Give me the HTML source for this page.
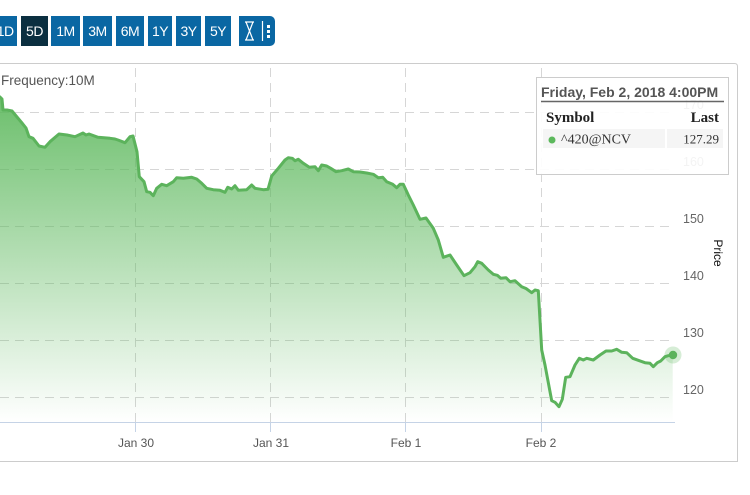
<!DOCTYPE html>
<html>
<head>
<meta charset="utf-8">
<style>
  html,body{margin:0;padding:0;background:#fff;}
  body{width:750px;height:495px;overflow:hidden;position:relative;font-family:"Liberation Sans",Arial,sans-serif;}
  .btn{position:absolute;top:16px;height:30px;background:#0a67a3;color:#fff;font-size:14px;line-height:30px;text-align:center;letter-spacing:-0.5px;}
  .dark{background:#0b2f40;}
  svg{position:absolute;left:0;top:0;}
</style>
</head>
<body>
<div class="btn" style="left:-10px;width:27px;text-align:right;padding-right:0;">1D&nbsp;</div>
<div class="btn dark" style="left:21px;width:27px;">5D</div>
<div class="btn" style="left:51px;width:29px;">1M</div>
<div class="btn" style="left:83px;width:29px;">3M</div>
<div class="btn" style="left:116px;width:28px;">6M</div>
<div class="btn" style="left:148px;width:24px;">1Y</div>
<div class="btn" style="left:176px;width:25px;">3Y</div>
<div class="btn" style="left:205px;width:26px;">5Y</div>
<div class="btn" style="left:239px;width:36px;border-radius:0 5px 5px 0;"></div>

<svg width="750" height="495" viewBox="0 0 750 495" xmlns="http://www.w3.org/2000/svg">
  <defs>
    <linearGradient id="g" gradientUnits="userSpaceOnUse" x1="0" y1="98" x2="0" y2="422">
      <stop offset="0" stop-color="#5cb85c" stop-opacity="0.9"/>
      <stop offset="1" stop-color="#5cb85c" stop-opacity="0"/>
    </linearGradient>
  </defs>

  <!-- icon button glyphs -->
  <g stroke="#fff" fill="none" stroke-width="1.2">
    <path d="M245,22 H254 M245,40 H254 M246,22 L253,40 M253,22 L246,40"/>
    <line x1="262.5" y1="21" x2="262.5" y2="41"/>
  </g>
  <g fill="#fff">
    <rect x="267" y="25" width="3" height="3"/>
    <rect x="267" y="30" width="3" height="3"/>
    <rect x="267" y="35" width="3" height="3"/>
  </g>

  <!-- panel -->
  <path d="M-2,63.5 H734.5 Q737.5,63.5 737.5,66.5 V461.5 H-2" fill="none" stroke="#cccccc" stroke-width="1"/>

  <text x="1" y="85" font-size="13.5" fill="#555">Frequency:10M</text>

  <!-- grid -->
  <g stroke="#d6d6d6" stroke-width="1" stroke-dasharray="9,6">
    <line x1="0" y1="112.5" x2="675" y2="112.5"/>
    <line x1="0" y1="169.5" x2="675" y2="169.5"/>
    <line x1="0" y1="226.5" x2="675" y2="226.5"/>
    <line x1="0" y1="283.5" x2="675" y2="283.5"/>
    <line x1="0" y1="340.5" x2="675" y2="340.5"/>
    <line x1="0" y1="397.5" x2="675" y2="397.5"/>
    <line x1="135.5" y1="68" x2="135.5" y2="422"/>
    <line x1="270.5" y1="68" x2="270.5" y2="422"/>
    <line x1="405.5" y1="68" x2="405.5" y2="422"/>
    <line x1="541.5" y1="68" x2="541.5" y2="422"/>
  </g>

  <!-- area -->
  <path fill="url(#g)" d="M0,97 L2,99 L3,110 L7,110 L12,111 L17,117 L22,123 L26,128 L29,136.7 L33,138.3 L39,146 L45,147.3 L50,141.7 L59,134 L67,135 L75,136.7 L83,133 L86,135 L89,134 L98,137.3 L110,138.3 L115,139 L118,140 L125,142.7 L130,136.7 L133,136 L137,151.7 L139.3,176.7 L144,181.7 L146.7,191.7 L150,192.3 L153.3,195.7 L156.7,188.3 L161.7,184.3 L166.7,185.7 L173.3,181.7 L176.7,177.7 L183.3,178.3 L191.7,177.3 L196.7,179 L201.7,183.3 L206.7,188.3 L213.3,189.7 L220,190.3 L225,192.3 L227.7,187.3 L231.7,189 L235,185.7 L238.3,190.3 L246.7,189.7 L251.7,185 L255,188.3 L263.3,189.7 L268,189.3 L271.7,176 L278.3,168.3 L285,160 L288.3,157.7 L292.3,158.3 L295,160.7 L298.3,159.3 L303.3,163.3 L309.3,167.3 L315,166.7 L318.3,170.7 L321.7,165 L326.7,166 L330.7,168.3 L336,171.7 L341.7,170.7 L348.3,169 L353.3,171.7 L360,172 L366.7,173 L373.3,174.3 L378.3,177.7 L382.7,177.3 L386.7,181.7 L392.7,184.3 L396.7,187.7 L400,184.3 L403.3,184.3 L408.3,195 L413.3,205 L420,219.3 L426,218 L433.3,228.3 L438.3,240 L443.3,257.3 L450,255 L456.7,265 L464,275.7 L470,272.7 L475,266.7 L477.7,261.7 L481.7,263.3 L488.3,270 L493.3,274.3 L497.3,275.3 L500.7,278.3 L506,277.7 L510,281.7 L515,280.7 L521.7,286.7 L526,288.5 L531.7,292.7 L535,290 L538.3,290.7 L541.7,350 L545,365 L551.7,400.7 L555,402.3 L559,406.7 L562.3,399.3 L565.7,377.3 L570,376.7 L575,365 L579.3,358.3 L583.3,360 L586.7,358.3 L593.3,360 L600,355 L606,351 L611.7,351 L616.7,349.3 L621.7,352.3 L626.7,352.7 L632.7,358.3 L639.3,360.7 L645,362.7 L650,363.3 L653.3,366.7 L657.3,362.7 L660.7,361 L665,356.7 L668.3,355.7 L672.7,355 L672.7,422 L0,422 Z"/>

  <!-- line -->
  <path fill="none" stroke="#5cb35c" stroke-width="3" stroke-linejoin="round" stroke-linecap="round" d="M0,97 L2,99 L3,110 L7,110 L12,111 L17,117 L22,123 L26,128 L29,136.7 L33,138.3 L39,146 L45,147.3 L50,141.7 L59,134 L67,135 L75,136.7 L83,133 L86,135 L89,134 L98,137.3 L110,138.3 L115,139 L118,140 L125,142.7 L130,136.7 L133,136 L137,151.7 L139.3,176.7 L144,181.7 L146.7,191.7 L150,192.3 L153.3,195.7 L156.7,188.3 L161.7,184.3 L166.7,185.7 L173.3,181.7 L176.7,177.7 L183.3,178.3 L191.7,177.3 L196.7,179 L201.7,183.3 L206.7,188.3 L213.3,189.7 L220,190.3 L225,192.3 L227.7,187.3 L231.7,189 L235,185.7 L238.3,190.3 L246.7,189.7 L251.7,185 L255,188.3 L263.3,189.7 L268,189.3 L271.7,176 L278.3,168.3 L285,160 L288.3,157.7 L292.3,158.3 L295,160.7 L298.3,159.3 L303.3,163.3 L309.3,167.3 L315,166.7 L318.3,170.7 L321.7,165 L326.7,166 L330.7,168.3 L336,171.7 L341.7,170.7 L348.3,169 L353.3,171.7 L360,172 L366.7,173 L373.3,174.3 L378.3,177.7 L382.7,177.3 L386.7,181.7 L392.7,184.3 L396.7,187.7 L400,184.3 L403.3,184.3 L408.3,195 L413.3,205 L420,219.3 L426,218 L433.3,228.3 L438.3,240 L443.3,257.3 L450,255 L456.7,265 L464,275.7 L470,272.7 L475,266.7 L477.7,261.7 L481.7,263.3 L488.3,270 L493.3,274.3 L497.3,275.3 L500.7,278.3 L506,277.7 L510,281.7 L515,280.7 L521.7,286.7 L526,288.5 L531.7,292.7 L535,290 L538.3,290.7 L541.7,350 L545,365 L551.7,400.7 L555,402.3 L559,406.7 L562.3,399.3 L565.7,377.3 L570,376.7 L575,365 L579.3,358.3 L583.3,360 L586.7,358.3 L593.3,360 L600,355 L606,351 L611.7,351 L616.7,349.3 L621.7,352.3 L626.7,352.7 L632.7,358.3 L639.3,360.7 L645,362.7 L650,363.3 L653.3,366.7 L657.3,362.7 L660.7,361 L665,356.7 L668.3,355.7 L672.7,355"/>

  <!-- end marker -->
  <circle cx="673" cy="355" r="8.5" fill="#5cb85c" fill-opacity="0.25"/>
  <circle cx="673" cy="355" r="4.2" fill="#5cb35c"/>

  <!-- x axis -->
  <line x1="0" y1="422.5" x2="675" y2="422.5" stroke="#c5d3e6" stroke-width="1"/>
  <g stroke="#c5d3e6" stroke-width="1">
    <line x1="135.5" y1="422" x2="135.5" y2="432"/>
    <line x1="270.5" y1="422" x2="270.5" y2="432"/>
    <line x1="405.5" y1="422" x2="405.5" y2="432"/>
    <line x1="541.5" y1="422" x2="541.5" y2="432"/>
  </g>
  <g font-size="12" fill="#555" text-anchor="middle">
    <text x="136" y="447">Jan 30</text>
    <text x="271" y="447">Jan 31</text>
    <text x="406" y="447">Feb 1</text>
    <text x="541" y="447">Feb 2</text>
  </g>

  <!-- y axis labels -->
  <g font-size="12.5" fill="#666">
    <text x="683" y="109">170</text>
    <text x="683" y="166">160</text>
    <text x="683" y="223">150</text>
    <text x="683" y="280">140</text>
    <text x="683" y="337">130</text>
    <text x="683" y="394">120</text>
  </g>
  <text transform="translate(714,253) rotate(90)" font-size="12" fill="#111" text-anchor="middle">Price</text>

  <!-- tooltip -->
  <rect x="536.5" y="77.5" width="192" height="97" fill="#ffffff" fill-opacity="0.92" stroke="#cccccc" stroke-width="1"/>
  <text x="541" y="97" font-size="14" font-weight="bold" fill="#555">Friday, Feb 2, 2018 4:00PM</text>
  <line x1="541" y1="101.5" x2="724" y2="101.5" stroke="#666" stroke-width="1.5"/>
  <text x="546" y="122" font-family="Liberation Serif, serif" font-size="15" font-weight="bold" fill="#222">Symbol</text>
  <text x="719" y="122" font-family="Liberation Serif, serif" font-size="15" font-weight="bold" fill="#222" text-anchor="end">Last</text>
  <rect x="543" y="129" width="122" height="19" fill="#f4f4f4" fill-opacity="0.9"/>
  <rect x="667" y="129" width="56" height="19" fill="#f4f4f4" fill-opacity="0.9"/>
  <circle cx="552" cy="140" r="3.5" fill="#5cb85c"/>
  <text x="561" y="143.5" font-family="Liberation Serif, serif" font-size="14" fill="#333">^420@NCV</text>
  <text x="719" y="143.5" font-family="Liberation Serif, serif" font-size="13" fill="#333" text-anchor="end">127.29</text>
</svg>
</body>
</html>
